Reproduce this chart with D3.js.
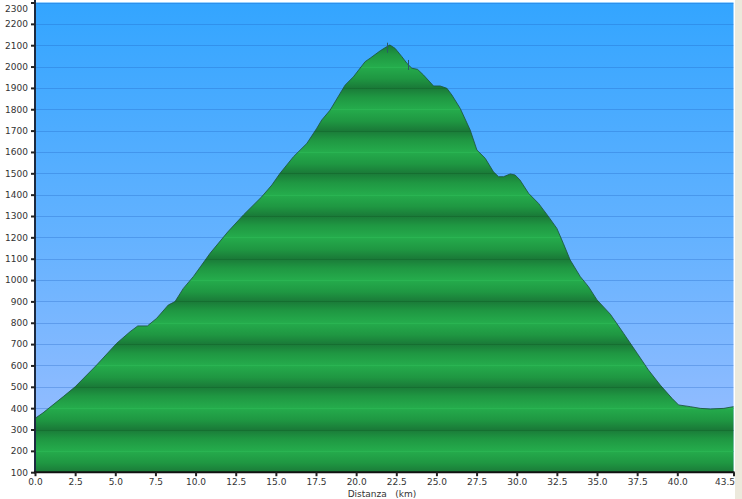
<!DOCTYPE html>
<html><head><meta charset="utf-8">
<script src="https://cdn.jsdelivr.net/npm/d3@7"></script>
<style>html,body{margin:0;padding:0;background:#fff;}svg{display:block;}</style>
</head><body>
<svg id="chart" width="742" height="499"></svg>
<script>
// Distance (km) and elevation (m) read from the profile
const distKm = [0, 0.5, 1.76, 2.5, 3.84, 5.09, 5.92, 6.4, 7.0, 7.58, 8.3, 8.72, 9.24, 9.86, 10.3, 10.9, 12.0, 12.98, 14.12, 14.75, 15.26, 16.1, 16.93, 17.55, 17.86, 18.38, 19.31, 19.83, 20.56, 20.87, 21.5, 21.9, 22.1, 22.43, 22.85, 23.16, 23.47, 23.82, 24.2, 24.82, 25.23, 25.65, 25.96, 26.48, 27.1, 27.52, 28.04, 28.55, 28.87, 29.18, 29.6, 29.9, 30.2, 30.74, 31.36, 31.98, 32.5, 32.9, 33.33, 33.96, 34.47, 35.0, 35.83, 36.65, 37.5, 38.2, 38.94, 39.67, 40.08, 40.81, 41.43, 42.06, 42.9, 43.5];
const elevM  = [352, 378, 454, 500, 602, 704, 758, 785, 785, 821, 883, 899, 961, 1016, 1062, 1125, 1225, 1305, 1390, 1445, 1500, 1578, 1640, 1711, 1750, 1796, 1913, 1952, 2023, 2039, 2074, 2093, 2101, 2085, 2046, 2015, 1992, 1987, 1960, 1909, 1909, 1898, 1867, 1804, 1703, 1609, 1570, 1507, 1484, 1484, 1497, 1492, 1469, 1406, 1359, 1297, 1242, 1172, 1094, 1016, 969, 907, 840, 751, 657, 579, 508, 446, 415, 407, 399, 396, 399, 407];
// waypoint marks on the profile
const markerKm = [21.9, 23.2];
const yTicks = d3.range(100, 2301, 100);
const xTicks = [0, 2.5, 5, 7.5, 10, 12.5, 15, 17.5, 20, 22.5, 25, 27.5, 30, 32.5, 35, 37.5, 40, 43.5];
const xTitle = "Distanza   (km)";

const svg = d3.select("#chart");
const L = 35, R = 733.5, T = 2.5, B = 472.2;
const x = d3.scaleLinear().domain([0, 43.5]).range([L, R]);
const y = d3.scaleLinear().domain([100, 2300]).range([B, T]);

const defs = svg.append("defs");
const sky = defs.append("linearGradient").attr("id", "sky")
  .attr("gradientUnits", "userSpaceOnUse").attr("x1", 0).attr("x2", 0).attr("y1", T).attr("y2", B);
sky.append("stop").attr("offset", 0).attr("stop-color", "#33a5ff");
sky.append("stop").attr("offset", 0.5).attr("stop-color", "#64b2ff");
sky.append("stop").attr("offset", 1).attr("stop-color", "#9fbfff");

const grn = defs.append("linearGradient").attr("id", "grn")
  .attr("gradientUnits", "userSpaceOnUse").attr("spreadMethod", "repeat")
  .attr("x1", 0).attr("x2", 0).attr("y1", y(300)).attr("y2", y(100));
[[0, "#1a7a38"], [0.22, "#1f9742"], [0.5, "#25ac4c"], [0.78, "#1f9742"], [1, "#1a7a38"]]
  .forEach(([o, c]) => grn.append("stop").attr("offset", o).attr("stop-color", c));

// right border strip
svg.append("rect").attr("x", 735).attr("y", 0).attr("width", 7).attr("height", 499).attr("fill", "#ece9dc");

svg.append("rect").attr("x", L).attr("y", T).attr("width", R - L).attr("height", B - T).attr("fill", "url(#sky)");

// grid lines
svg.append("g").selectAll("line").data(yTicks.slice(1)).join("line")
  .attr("x1", L).attr("x2", R).attr("y1", d => Math.round(y(d)) + 0.5).attr("y2", d => Math.round(y(d)) + 0.5)
  .attr("stroke", "#1d5fc0").attr("stroke-opacity", 0.3).attr("stroke-width", 1);

const pts = distKm.map((d, i) => [d, elevM[i]]);
const area = d3.area().x(d => x(d[0])).y0(B).y1(d => y(d[1]));
const line = d3.line().x(d => x(d[0])).y(d => y(d[1]));

defs.append("clipPath").attr("id", "areaClip").append("path").attr("d", area(pts));
svg.append("path").attr("d", area(pts)).attr("fill", "url(#grn)");

// grid lines inside the green area
svg.append("g").attr("clip-path", "url(#areaClip)").selectAll("line").data(yTicks.slice(1)).join("line")
  .attr("x1", L).attr("x2", R).attr("y1", d => Math.round(y(d)) + 0.5).attr("y2", d => Math.round(y(d)) + 0.5)
  .attr("stroke", d => (d % 200 === 100) ? "#146a2e" : "#2cb856").attr("stroke-opacity", 0.7);

svg.append("path").attr("d", line(pts)).attr("fill", "none")
  .attr("stroke", "#1d5440").attr("stroke-width", 1).attr("stroke-opacity", 0.85);

// waypoint marks
const elevAt = d3.scaleLinear().domain(distKm).range(elevM);
svg.append("g").selectAll("line").data(markerKm).join("line")
  .attr("x1", d => Math.round(x(d)) + 0.5).attr("x2", d => Math.round(x(d)) + 0.5)
  .attr("y1", d => y(elevAt(d)) - 4).attr("y2", d => y(elevAt(d)) + 6)
  .attr("stroke", "#2a5a6a").attr("stroke-width", 1);

// axes
const font = "DejaVu Sans, Verdana, sans-serif";
const yAxis = svg.append("g").attr("transform", `translate(${L},0)`)
  .call(d3.axisLeft(y).tickValues(yTicks).tickFormat(d3.format("d")).tickSize(4).tickPadding(3));
yAxis.select(".domain").attr("stroke", "#1c2a40").attr("stroke-width", 2).attr("d", `M0,0V${B + 1}`);
yAxis.selectAll(".tick line").attr("stroke", "#222").attr("stroke-width", 2);
yAxis.selectAll("text").attr("font-family", font).attr("font-size", 9).attr("fill", "#333")
  .attr("dy", d => d === 2300 ? "0.95em" : "0.32em");

const xAxis = svg.append("g").attr("transform", `translate(0,${B})`)
  .call(d3.axisBottom(x).tickValues(xTicks).tickFormat(d3.format(".1f")).tickSize(4).tickPadding(2));
xAxis.select(".domain").attr("stroke", "#111").attr("stroke-width", 2).attr("d", `M${L - 1},0H${R + 1}`);
xAxis.selectAll(".tick line").attr("stroke", "#222").attr("stroke-width", 2);
xAxis.selectAll("text").attr("font-family", font).attr("font-size", 9).attr("fill", "#333")
  .attr("dx", d => d === 43.5 ? -9 : 0);

svg.append("text").attr("x", 382).attr("y", 497).attr("text-anchor", "middle")
  .attr("font-family", font).attr("font-size", 9).attr("fill", "#333")
  .attr("xml:space", "preserve").style("white-space", "pre").text(xTitle);
</script>
</body></html>
